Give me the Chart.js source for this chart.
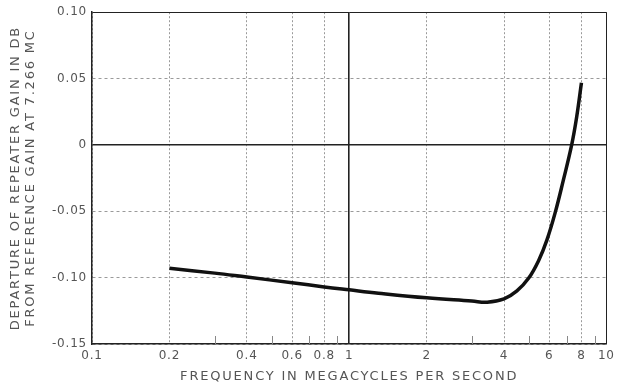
<!DOCTYPE html>
<html>
<head>
<meta charset="utf-8">
<script src="https://cdn.jsdelivr.net/npm/chart.js@4/dist/chart.umd.min.js"></script>
<style>
  html, body { margin: 0; padding: 0; background: #fff; }
</style>
</head>
<body>
<canvas id="graficoGanho" width="619" height="384"></canvas>
<script>
// frequency in Mc and departure of gain in db
const frequencies = [0.2, 0.3, 0.4, 0.6, 0.8, 1, 1.3, 2, 3, 3.44, 4, 4.49, 4.99, 5.45, 5.87, 6.32, 6.8, 7.33, 7.66, 8];
const departures = [-0.093, -0.0966, -0.0996, -0.1038, -0.107, -0.1092, -0.1117, -0.1152, -0.1176, -0.1185, -0.116, -0.110, -0.1003, -0.0872, -0.0717, -0.0512, -0.0267, 0.0, 0.0206, 0.0468];

const xTicks = [0.1, 0.2, 0.4, 0.6, 0.8, 1, 2, 4, 6, 8, 10];
const xMinorTicks = [0.3, 0.5, 0.7, 0.9, 3, 5, 7, 9];
const yTicks = [-0.15, -0.10, -0.05, 0, 0.05, 0.10];
const yLabels = ["-0.15", "-0.10", "-0.05", "0", "0.05", "0.10"];

const textColor = "#555";
const fontFamily = "'DejaVu Sans', sans-serif";

const lettering = {
  id: "lettering",
  beforeDraw(chart) {
    // axis titles on the original are widely spaced
    chart.ctx.letterSpacing = "1.8px";
  },
  beforeDatasetsDraw(chart) {
    // small tick marks along the bottom edge
    const { ctx, chartArea } = chart;
    const x = chart.scales.x;
    ctx.save();
    ctx.strokeStyle = "#888";
    ctx.lineWidth = 1;
    xMinorTicks.forEach(v => {
      const px = Math.round(x.getPixelForValue(v)) + 0.5;
      ctx.beginPath();
      ctx.moveTo(px, chartArea.bottom);
      ctx.lineTo(px, chartArea.bottom - 8);
      ctx.stroke();
    });
    ctx.restore();
  },
  afterDatasetsDraw(chart) {
    // tick labels are drawn after this (ticks.z = 1)
    chart.ctx.letterSpacing = "0.8px";
  }
};

const config = {
  type: "line",
  data: {
    datasets: [
      {
        data: frequencies.map((f, i) => ({ x: f, y: departures[i] })),
        borderColor: "#111",
        borderWidth: 3.5,
        pointRadius: 0,
        tension: 0.4,
        fill: false
      }
    ]
  },
  options: {
    responsive: false,
    animation: false,
    devicePixelRatio: 1,
    layout: { padding: { top: 12, right: 9, bottom: 0, left: 0 } },
    plugins: {
      legend: { display: false },
      tooltip: { enabled: false }
    },
    scales: {
      x: {
        type: "logarithmic",
        min: 0.1,
        max: 10,
        afterBuildTicks: scale => { scale.ticks = xTicks.map(v => ({ value: v })); },
        afterFit: scale => { scale.height = 40; },
        ticks: {
          z: 1,
          autoSkip: false,
          maxRotation: 0,
          padding: 5,
          color: textColor,
          font: { family: fontFamily, size: 12 },
          callback: v => String(v)
        },
        grid: {
          drawTicks: false,
          color: ctx => (ctx.tick && (ctx.tick.value === 1 || ctx.tick.value === 10)) ? "#222" : "#9a9a9a",
          lineWidth: ctx => (ctx.tick && ctx.tick.value === 1) ? 1.6 : 1
        },
        border: {
          color: "#222",
          width: 1.5,
          dash: ctx => (ctx.tick && (ctx.tick.value === 1 || ctx.tick.value === 10)) ? [] : [2, 2]
        },
        title: {
          display: true,
          text: "FREQUENCY IN MEGACYCLES PER SECOND",
          color: textColor,
          font: { family: fontFamily, size: 13 },
          padding: { top: 2, bottom: 0 }
        }
      },
      y: {
        type: "linear",
        min: -0.15,
        max: 0.10,
        afterBuildTicks: scale => { scale.ticks = yTicks.map(v => ({ value: v })); },
        afterFit: scale => { scale.width = 92; },
        ticks: {
          z: 1,
          padding: 5,
          color: textColor,
          font: { family: fontFamily, size: 12 },
          callback: (v, i) => yLabels[i]
        },
        grid: {
          drawTicks: false,
          color: ctx => (ctx.tick && (ctx.tick.value === 0 || ctx.tick.value === 0.10)) ? "#222" : "#9a9a9a",
          lineWidth: ctx => (ctx.tick && ctx.tick.value === 0) ? 1.6 : 1
        },
        border: {
          color: "#222",
          width: 1.5,
          dash: ctx => (ctx.tick && (ctx.tick.value === 0 || ctx.tick.value === 0.10)) ? [] : [3, 3]
        },
        title: {
          display: true,
          text: ["DEPARTURE OF REPEATER GAIN IN DB", "FROM REFERENCE GAIN AT 7.266 MC"],
          color: textColor,
          font: { family: fontFamily, size: 13, lineHeight: 1.15 },
          padding: { top: 8, bottom: 0 }
        }
      }
    }
  },
  plugins: [lettering]
};

const graficoGanho = new Chart(document.getElementById("graficoGanho"), config);
</script>
</body>
</html>
